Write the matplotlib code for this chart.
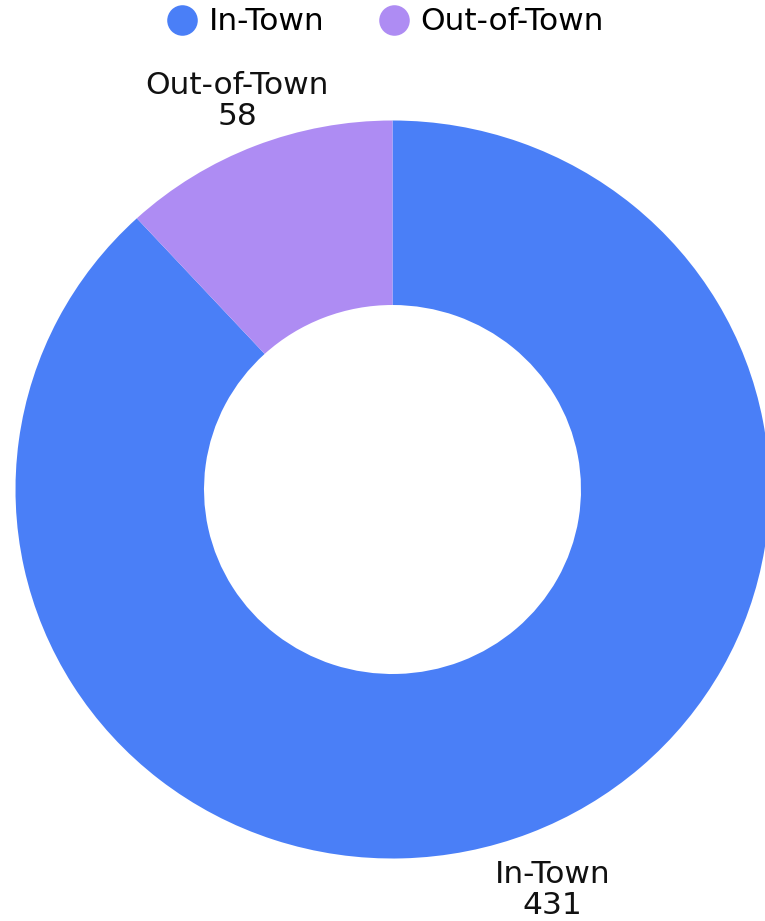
import numpy as np
import matplotlib.pyplot as plt
from matplotlib.lines import Line2D

# data
labels = ['In-Town', 'Out-of-Town']
counts = [431, 58]
colors = ['#4A7FF7', '#AE8CF3']
label_dist = [1.165, 1.13]

W, H = 765, 921
plt.rcParams['font.family'] = ['DejaVu Sans']
fig = plt.figure(figsize=(W / 100, H / 100), dpi=100)
ax = fig.add_axes([0, 0, 1, 1])

wedges, texts = ax.pie(
    counts, colors=colors, startangle=90, counterclock=False,
    labels=[f'{l}\n{c}' for l, c in zip(labels, counts)],
    labeldistance=1.12, radius=1.0,
    wedgeprops=dict(width=0.5, linewidth=0),
    textprops=dict(fontsize=22.5, color='#111111', ha='center', va='center',
                   linespacing=1.06),
)
for w, t, d in zip(wedges, texts, label_dist):
    ang = np.deg2rad((w.theta1 + w.theta2) / 2)
    t.set_position((d * np.cos(ang), d * np.sin(ang)))

# slightly stretched ellipse like the original
cx, cy = 392.5, 431.5  # pixel centre (from bottom)
rx, ry = 377.0, 369.0
ax.set_aspect('auto')
ax.set_xlim(-cx / rx, (W - cx) / rx)
ax.set_ylim(-cy / ry, (H - cy) / ry)
ax.axis('off')

handles = [Line2D([0], [0], marker='o', linestyle='None', markersize=22,
                  markerfacecolor=c, markeredgewidth=0) for c in colors]
fig.legend(handles, labels, loc='center', bbox_to_anchor=(386 / W, 1 - 22 / H),
           ncol=2, frameon=False, fontsize=22.5, handletextpad=0.42,
           columnspacing=1.75, handlelength=0.9)

fig.savefig('out.png', dpi=100)
